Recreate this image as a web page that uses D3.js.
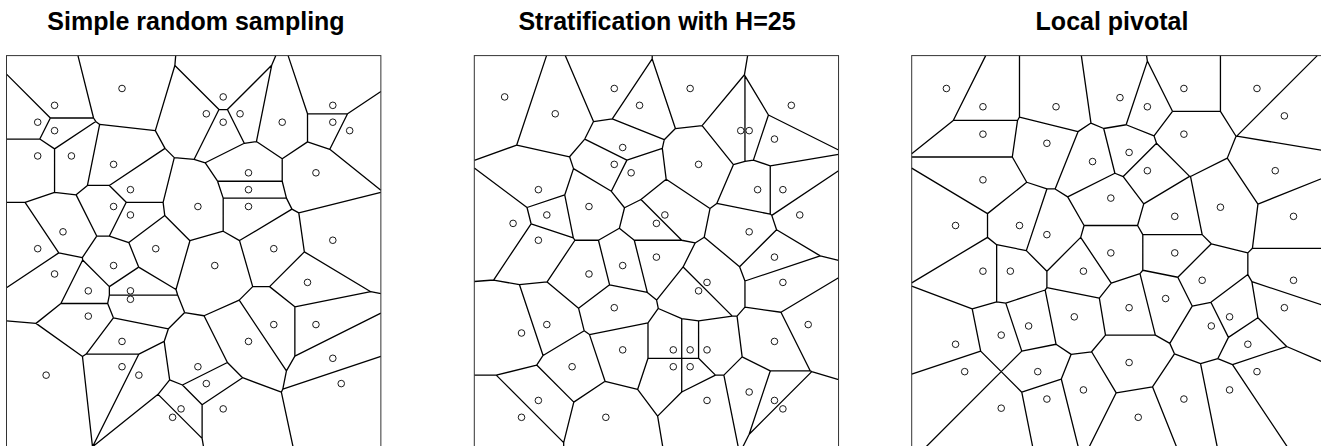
<!DOCTYPE html>
<html><head><meta charset="utf-8">
<script src="https://cdn.jsdelivr.net/npm/d3@7"></script>
<style>body{margin:0;background:#fff}svg{display:block}</style>
</head><body>
<svg id="chart" width="1321" height="446"></svg>
<script>
// Sample units on the population grid: [column, row]
const titles = ["Simple random sampling", "Stratification with H=25", "Local pivotal"];

const srsSample = [
  [10,0],[2,2],[0,4],[2,5],[0,8],[4,8],[9,9],[11,12],[9,14],[11,15],[19,14],[3,17],[0,19],[14,19],
  [22,1],[20,3],[24,3],[22,4],[29,4],[35,2],[35,4],[37,5],[25,10],[33,10],[25,12],[25,14],[28,19],[35,18],
  [9,21],[2,22],[6,24],[11,24],[11,25],[6,27],[10,30],[10,33],[12,34],[1,34],[17,38],[16,39],[19,33],
  [21,21],[32,23],[28,28],[33,28],[25,30],[35,32],[20,35],[36,35],[22,38]
];

const stratSample = [
  [0,1],[6,3],[13,0],[16,2],[14,7],[13,9],[15,10],[4,12],[10,14],[5,15],[1,16],[18,16],[4,18],
  [22,0],[34,2],[28,5],[29,5],[32,6],[23,9],[30,12],[33,12],[19,15],[35,15],[29,17],
  [18,20],[14,21],[10,22],[13,26],[5,28],[2,29],[14,31],[8,33],[4,37],[2,39],[12,39],
  [32,20],[24,23],[23,24],[33,23],[36,28],[32,30],[20,31],[22,31],[24,31],[20,33],[22,33],
  [29,36],[24,37],[32,37],[33,38]
];

const pivotalSample = [
  [0,0],[4,2],[12,2],[4,5],[11,6],[16,8],[4,10],[18,12],[1,15],[8,15],[11,16],
  [19,1],[22,2],[26,0],[34,0],[37,3],[26,5],[20,7],[22,9],[36,9],[30,13],[25,14],[38,14],
  [18,18],[4,20],[7,20],[15,20],[14,25],[9,26],[6,27],[1,28],[2,31],[10,31],[15,33],[11,34],[6,35],
  [25,18],[28,21],[38,21],[24,23],[20,24],[37,24],[31,25],[29,26],[33,28],[20,30],[34,31],[31,33],[26,34],[21,36]
];

const samples = [srsSample, stratSample, pivotalSample];

// layout
const panelLeft = [6.5, 474.3, 911.7];
const titleX = [196, 657, 1112];
const plotTop = 55.6, plotBottom = 450.2;

const svg = d3.select("#chart");

samples.forEach((pts, i) => {
  const xe = d3.extent(pts, d => d[0]);
  const ye = d3.extent(pts, d => d[1]);
  const rx = xe[1] - xe[0], ry = ye[1] - ye[0];
  const xd = [xe[0] - 0.1 * rx, xe[1] + 0.1 * rx];
  const yd = [ye[0] - 0.1 * ry, ye[1] + 0.1 * ry];
  const s = (plotBottom - plotTop) / (yd[1] - yd[0]);
  const x = d3.scaleLinear().domain(xd).range([panelLeft[i], panelLeft[i] + (xd[1] - xd[0]) * s]);
  const y = d3.scaleLinear().domain(yd).range([plotTop, plotBottom]);

  const g = svg.append("g");
  const px = pts.map(d => [x(d[0]), y(d[1])]);
  const bounds = [x(xd[0]), y(yd[0]), x(xd[1]), y(yd[1])];
  const vor = d3.Delaunay.from(px).voronoi(bounds);

  g.append("path")
    .attr("d", vor.render())
    .attr("fill", "none")
    .attr("stroke", "#000")
    .attr("stroke-width", 1.3);

  g.append("rect")
    .attr("x", bounds[0]).attr("y", bounds[1])
    .attr("width", bounds[2] - bounds[0]).attr("height", bounds[3] - bounds[1])
    .attr("fill", "none").attr("stroke", "#333").attr("stroke-width", 1);

  g.selectAll("circle").data(pts).join("circle")
    .attr("cx", d => x(d[0])).attr("cy", d => y(d[1]))
    .attr("r", 3.3)
    .attr("fill", "#fff")
    .attr("stroke", "#000")
    .attr("stroke-width", 0.9);

  svg.append("text")
    .attr("x", titleX[i]).attr("y", 30)
    .attr("text-anchor", "middle")
    .attr("font-family", "Liberation Sans, Arial, sans-serif")
    .attr("font-weight", "bold")
    .attr("font-size", 25)
    .text(titles[i]);
});
</script>
</body></html>
